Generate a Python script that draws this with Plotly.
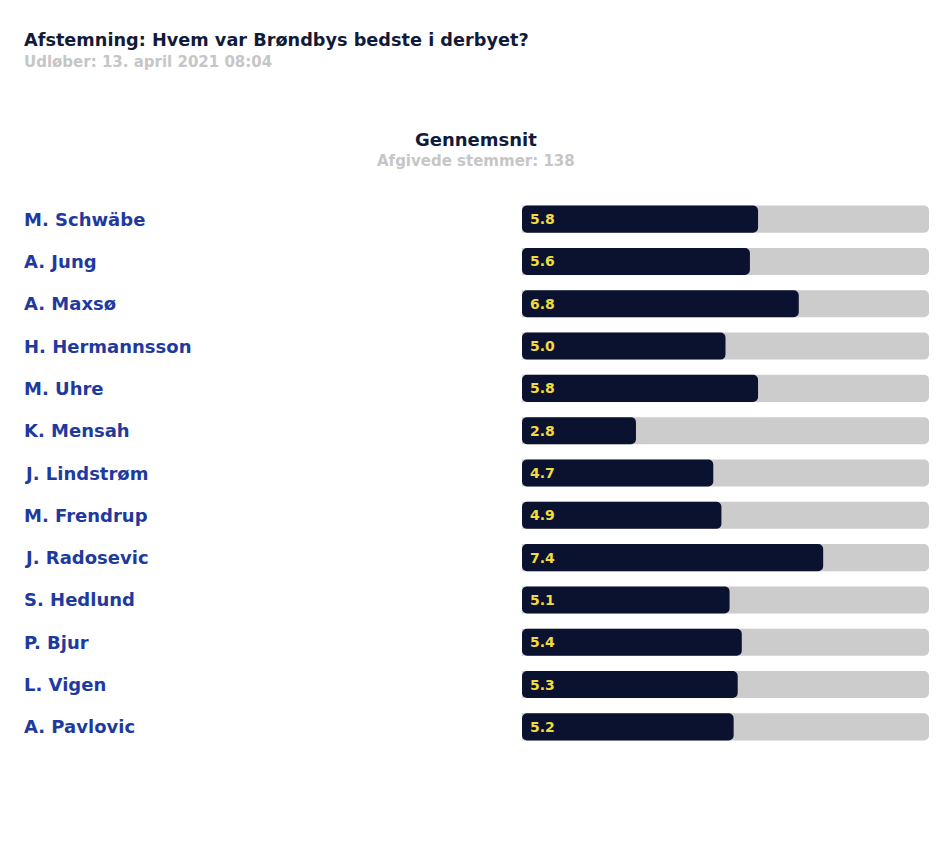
import plotly.graph_objects as go

players = ["M. Schwäbe", "A. Jung", "A. Maxsø", "H. Hermannsson", "M. Uhre", "K. Mensah",
           "J. Lindstrøm", "M. Frendrup", "J. Radosevic", "S. Hedlund", "P. Bjur",
           "L. Vigen", "A. Pavlovic"]
averages = [5.8, 5.6, 6.8, 5.0, 5.8, 2.8, 4.7, 4.9, 7.4, 5.1, 5.4, 5.3, 5.2]
scale_max = 10

title_text = "Afstemning: Hvem var Brøndbys bedste i derbyet?"
subtitle_text = "Udløber: 13. april 2021 08:04"
header_text = "Gennemsnit"
votes_text = "Afgivede stemmer: 138"

FONT = "DejaVu Sans"
DARK = "#0b1230"
GRAY = "#cccccc"
YELLOW = "#f2dc3c"
BLUE = "#1f3a9e"

fig = go.Figure()

# background (full scale) bars, rounded on the right end
fig.add_trace(go.Bar(
    y=players, x=[scale_max] * len(players), orientation="h",
    marker=dict(color=GRAY, cornerradius=5, line=dict(width=0)),
    width=0.64, hoverinfo="skip", showlegend=False,
))

# value bars drawn from value back to zero so the rounded tip sits at the left end
fig.add_trace(go.Bar(
    y=players, x=[-v for v in averages], base=averages, orientation="h",
    marker=dict(color=DARK, cornerradius=5, line=dict(width=0)),
    width=0.64, text=["\u00a0" + f"{v:.1f}" for v in averages],
    textposition="inside", insidetextanchor="end",
    textfont=dict(color=YELLOW, family=FONT, size=14, weight="bold"),
    hoverinfo="skip", showlegend=False,
))

annotations = []
for p in players:
    annotations.append(dict(
        x=0, xref="paper", y=p, yref="y", text=p, showarrow=False,
        xanchor="left", yanchor="middle", xshift=-3,
        font=dict(family=FONT, size=18, color=BLUE, weight="bold"),
    ))

plot_h = 550.0
plot_bottom_px = 748.0
def py(px):
    return (plot_bottom_px - px) / plot_h

annotations += [
    dict(x=0, xref="paper", y=py(40), yref="paper", text=title_text, showarrow=False,
         xanchor="left", yanchor="middle", xshift=-3,
         font=dict(family=FONT, size=17.7, color="#121a3a", weight="bold")),
    dict(x=0, xref="paper", y=py(62), yref="paper", text=subtitle_text, showarrow=False,
         xanchor="left", yanchor="middle", xshift=-3,
         font=dict(family=FONT, size=15, color="#c6c6c6", weight="bold")),
    dict(x=(476 - 25) / 904, xref="paper", y=py(139), yref="paper", text=header_text,
         showarrow=False, xanchor="center", yanchor="middle",
         font=dict(family=FONT, size=18, color="#121a3a", weight="bold")),
    dict(x=(476 - 25) / 904, xref="paper", y=py(161), yref="paper", text=votes_text,
         showarrow=False, xanchor="center", yanchor="middle",
         font=dict(family=FONT, size=15, color="#c6c6c6", weight="bold")),
]

fig.update_layout(
    width=950, height=847,
    margin=dict(l=25, r=21, t=198, b=99),
    paper_bgcolor="white", plot_bgcolor="white",
    barmode="overlay", bargap=0.36,
    xaxis=dict(domain=[(522 - 25) / 904, 1], range=[0, scale_max], visible=False, fixedrange=True),
    yaxis=dict(categoryorder="array", categoryarray=players, autorange="reversed",
               range=[len(players) - 0.5, -0.5], visible=False, fixedrange=True),
    annotations=annotations,
    uniformtext=dict(mode="show", minsize=14),
)

fig.write_html("out.html")
